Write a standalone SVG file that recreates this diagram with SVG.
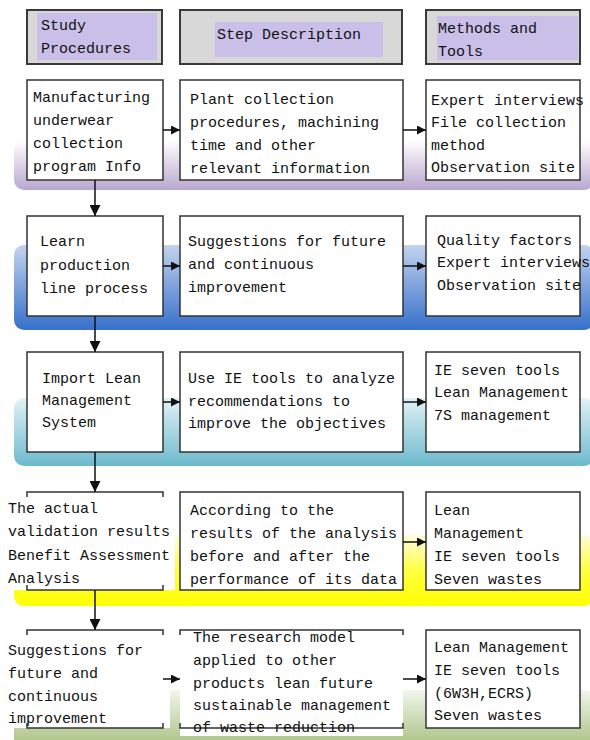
<svg xmlns="http://www.w3.org/2000/svg" width="590" height="740" viewBox="0 0 590 740">
<defs>
<linearGradient id="gPurple" x1="0" y1="0" x2="0" y2="1"><stop offset="0" stop-color="#ffffff"/><stop offset="1" stop-color="#b9a7cf"/></linearGradient>
<linearGradient id="gBlue" x1="0" y1="0" x2="0" y2="1"><stop offset="0" stop-color="#c3d3ee"/><stop offset="1" stop-color="#3670cb"/></linearGradient>
<linearGradient id="gTeal" x1="0" y1="0" x2="0" y2="1"><stop offset="0" stop-color="#e2f2f6"/><stop offset="1" stop-color="#6cb9ce"/></linearGradient>
<linearGradient id="gYellow" x1="0" y1="0" x2="0" y2="1"><stop offset="0" stop-color="#fffbe0"/><stop offset="0.5" stop-color="#ffff40"/><stop offset="1" stop-color="#ffff00"/></linearGradient>
<linearGradient id="gGreen" x1="0" y1="0" x2="0" y2="1"><stop offset="0" stop-color="#f2f6ec"/><stop offset="1" stop-color="#a4bd7c"/></linearGradient>
<marker id="ah" viewBox="0 0 10 10" refX="10" refY="5" markerWidth="9" markerHeight="9" markerUnits="userSpaceOnUse" orient="auto"><path d="M0,0 L10,5 L0,10 z" fill="#111"/></marker>
<marker id="av" viewBox="0 0 10 10" refX="10" refY="5" markerWidth="11" markerHeight="11" markerUnits="userSpaceOnUse" orient="auto"><path d="M0,0 L10,5 L0,10 z" fill="#111"/></marker>
</defs>
<style>
.hd{fill:#d8d8d8;stroke:#3a3a3a;stroke-width:2}
.lv{fill:#c9bfe8}
.bx{fill:#ffffff;stroke:#333;stroke-width:1.5}
.wh{fill:#ffffff}
.br{fill:none;stroke:#333;stroke-width:1.5}
.t{font-family:"Liberation Mono","DejaVu Sans Mono",monospace;font-size:15px;fill:#111}
.c{stroke:#111;stroke-width:1.5;fill:none}
</style>
<rect width="590" height="740" fill="#ffffff"/>
<g id="bands">
<rect x="14" y="140" width="580" height="50" rx="10" fill="url(#gPurple)"/>
<rect x="14" y="245" width="580" height="85" rx="10" fill="url(#gBlue)"/>
<rect x="14" y="398" width="580" height="68" rx="10" fill="url(#gTeal)"/>
<rect x="14" y="535" width="580" height="71" rx="10" fill="url(#gYellow)"/>
<rect x="14" y="690" width="580" height="60" rx="10" fill="url(#gGreen)"/>
</g>
<g id="header">
<g id="h1"><rect class="hd" x="27" y="10" width="135" height="54"/><rect class="lv" x="37" y="13" width="120" height="47"/><text class="t" x="41" y="30">Study</text><text class="t" x="41" y="53">Procedures</text></g>
<g id="h2"><rect class="hd" x="180" y="10" width="222" height="54"/><rect class="lv" x="215" y="22" width="168" height="35"/><text class="t" x="217" y="39">Step Description</text></g>
<g id="h3"><rect class="hd" x="426" y="10" width="154" height="54"/><rect class="lv" x="437" y="16" width="141" height="44"/><text class="t" x="438" y="33">Methods and</text><text class="t" x="438" y="56">Tools</text></g>
</g>
<g id="r1c1"><rect class="bx" x="27" y="80" width="136" height="100"/><text class="t" x="33" y="102">Manufacturing</text><text class="t" x="33" y="125">underwear</text><text class="t" x="33" y="148">collection</text><text class="t" x="33" y="171">program Info</text></g>
<g id="r1c2"><rect class="bx" x="180" y="80" width="223" height="100"/><text class="t" x="190" y="104">Plant collection</text><text class="t" x="190" y="127">procedures, machining</text><text class="t" x="190" y="150">time and other</text><text class="t" x="190" y="173">relevant information</text></g>
<g id="r1c3"><rect class="bx" x="426" y="80" width="154" height="100"/><text class="t" x="431" y="105">Expert interviews</text><text class="t" x="431" y="127">File collection</text><text class="t" x="431" y="150">method</text><text class="t" x="431" y="172">Observation site</text></g>
<g id="r2c1"><rect class="bx" x="27" y="216" width="136" height="100"/><text class="t" x="40" y="246">Learn</text><text class="t" x="40" y="270">production</text><text class="t" x="40" y="293">line process</text></g>
<g id="r2c2"><rect class="bx" x="180" y="216" width="223" height="100"/><text class="t" x="188" y="246">Suggestions for future</text><text class="t" x="188" y="269">and continuous</text><text class="t" x="188" y="292">improvement</text></g>
<g id="r2c3"><rect class="bx" x="426" y="216" width="154" height="100"/><text class="t" x="437" y="245">Quality factors</text><text class="t" x="437" y="267">Expert interviews</text><text class="t" x="437" y="290">Observation site</text></g>
<g id="r3c1"><rect class="bx" x="27" y="352" width="136" height="100"/><text class="t" x="42" y="383">Import Lean</text><text class="t" x="42" y="405">Management</text><text class="t" x="42" y="427">System</text></g>
<g id="r3c2"><rect class="bx" x="180" y="352" width="223" height="100"/><text class="t" x="188" y="383">Use IE tools to analyze</text><text class="t" x="188" y="406">recommendations to</text><text class="t" x="188" y="428">improve the objectives</text></g>
<g id="r3c3"><rect class="bx" x="426" y="352" width="154" height="100"/><text class="t" x="434" y="375">IE seven tools</text><text class="t" x="434" y="397">Lean Management</text><text class="t" x="434" y="420">7S management</text></g>
<g id="r4c1"><rect class="wh" x="5" y="493" width="170" height="97"/><path class="br" d="M27,497 V492 H163 V497 M27,585 V590 H163 V585"/><text class="t" x="8" y="513">The actual</text><text class="t" x="8" y="536">validation results</text><text class="t" x="8" y="560">Benefit Assessment</text><text class="t" x="8" y="583">Analysis</text></g>
<g id="r4c2"><rect class="bx" x="180" y="492" width="223" height="98"/><text class="t" x="190" y="515">According to the</text><text class="t" x="190" y="538">results of the analysis</text><text class="t" x="190" y="561">before and after the</text><text class="t" x="190" y="584">performance of its data</text></g>
<g id="r4c3"><rect class="bx" x="426" y="492" width="154" height="98"/><text class="t" x="434" y="515">Lean</text><text class="t" x="434" y="538">Management</text><text class="t" x="434" y="561">IE seven tools</text><text class="t" x="434" y="584">Seven wastes</text></g>
<g id="r5c1"><rect class="wh" x="5" y="631" width="165" height="97"/><path class="br" d="M27,635 V630 H163 V635 M27,723 V728 H163 V723"/><text class="t" x="8" y="655">Suggestions for</text><text class="t" x="8" y="678">future and</text><text class="t" x="8" y="701">continuous</text><text class="t" x="8" y="723">improvement</text></g>
<g id="r5c2"><rect class="wh" x="180" y="630" width="223" height="106"/><path class="br" d="M180,635 V630 H403 V635 M180,723 V728 H403 V723"/><text class="t" x="193" y="642">The research model</text><text class="t" x="193" y="665">applied to other</text><text class="t" x="193" y="688">products lean future</text><text class="t" x="193" y="710">sustainable management</text><text class="t" x="193" y="732">of waste reduction</text></g>
<g id="r5c3"><rect class="bx" x="426" y="630" width="154" height="98"/><text class="t" x="434" y="652">Lean Management</text><text class="t" x="434" y="675">IE seven tools</text><text class="t" x="434" y="698">(6W3H,ECRS)</text><text class="t" x="434" y="720">Seven wastes</text></g>
<g id="connectors">
<line class="c" x1="163" y1="130" x2="180" y2="130" marker-end="url(#ah)"/>
<line class="c" x1="403" y1="130" x2="426" y2="130" marker-end="url(#ah)"/>
<line class="c" x1="95" y1="180" x2="95" y2="216" marker-end="url(#av)"/>
<line class="c" x1="163" y1="266" x2="180" y2="266" marker-end="url(#ah)"/>
<line class="c" x1="403" y1="266" x2="426" y2="266" marker-end="url(#ah)"/>
<line class="c" x1="95" y1="316" x2="95" y2="352" marker-end="url(#av)"/>
<line class="c" x1="163" y1="402" x2="180" y2="402" marker-end="url(#ah)"/>
<line class="c" x1="403" y1="402" x2="426" y2="402" marker-end="url(#ah)"/>
<line class="c" x1="95" y1="452" x2="95" y2="492" marker-end="url(#av)"/>
<line class="c" x1="403" y1="542" x2="426" y2="542" marker-end="url(#ah)"/>
<line class="c" x1="95" y1="590" x2="95" y2="630" marker-end="url(#av)"/>
<line class="c" x1="163" y1="679" x2="180" y2="679" marker-end="url(#ah)"/>
<line class="c" x1="403" y1="679" x2="426" y2="679" marker-end="url(#ah)"/>
</g>
</svg>
